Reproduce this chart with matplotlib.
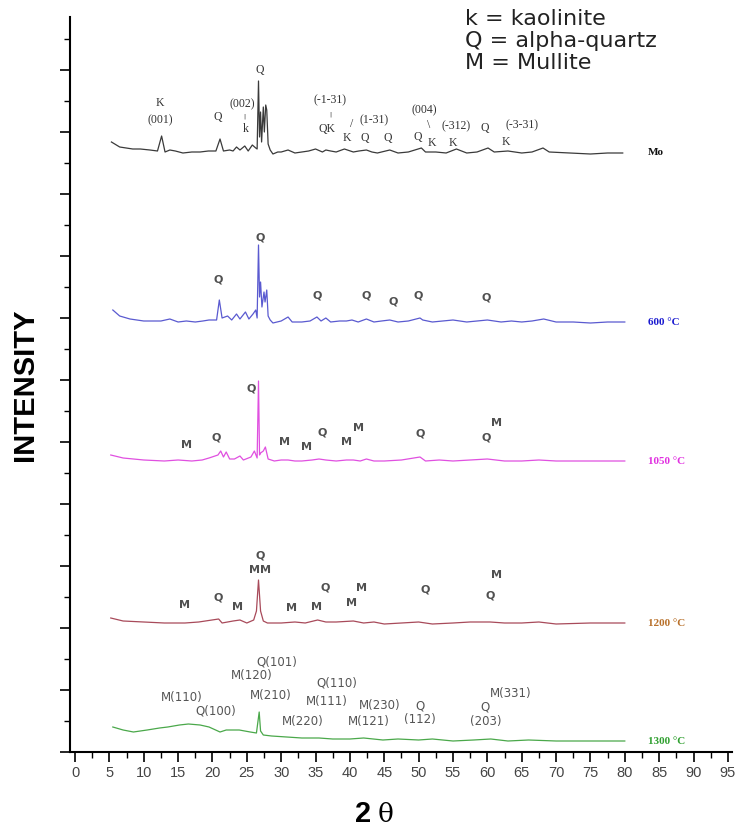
import matplotlib
matplotlib.use("Agg")
import matplotlib.pyplot as plt
import numpy as np
from matplotlib.ticker import MultipleLocator, NullFormatter

# ---- data (2-theta in degrees, intensity above each trace's own baseline, arbitrary units) ----
tt_mo = [5.3, 6.5, 8.4, 9.5, 10.9, 12.0, 12.6, 13.1, 13.8, 14.6, 15.7, 17.0, 18.2, 19.4, 20.5, 21.1,
         21.6, 22.5, 23.0, 23.5, 24.0, 24.7, 25.2, 25.8, 26.3, 26.5, 26.7, 26.85, 27.0, 27.15, 27.4,
         27.55, 27.75, 27.9, 28.1, 28.4, 28.8, 29.5, 30.0, 31.0, 32.0, 33.0, 34.0, 35.0, 36.0,
         36.5, 37.2, 38.0, 39.2, 40.5, 41.3, 42.4, 43.2, 44.0, 45.8, 47.0, 48.5, 50.4, 51.0,
         52.5, 54.0, 55.5, 57.0, 58.5, 60.1, 61.0, 63.0, 65.0, 66.5, 68.1, 69.0, 72.0, 75.0,
         77.5, 79.7]
i_mo = [10, 5, 3, 3, 2, 1, 16, 0, 2, 1, -1, 0, 0, 1, 1, 13,
        1, 2, 1, 5, 2, 6, 1, 7, 4, 3, 71, 15, 40, 10, 45,
        20, 47, 42, 8, 2, -2, 0, 0, 2, -1, 0, 1, 3, 0,
        2, 1, 0, 3, 0, 1, 2, 0, -1, 2, -1, 0, 4, 0,
        0, -1, 3, -1, 0, 4, 0, 1, -1, 0, 4, 0, -1, -2,
        -1, -1]

tt_600 = [5.5, 6.5, 8.0, 10.0, 12.5, 13.8, 15.0, 16.2, 17.5, 18.6, 19.5, 20.6, 21.0, 21.4, 22.2,
          22.8, 23.5, 24.0, 24.8, 25.3, 25.9, 26.3, 26.5, 26.7, 26.85, 27.0, 27.2, 27.5, 27.65,
          27.9, 28.1, 28.4, 28.8, 30.0, 31.0, 31.6, 33.0, 34.2, 35.2, 35.8, 36.5, 37.2, 38.5,
          39.5, 40.3, 41.2, 42.4, 43.5, 44.6, 45.8, 47.0, 48.5, 50.2, 50.6, 52.0, 53.5, 55.0,
          57.0, 58.5, 60.0, 62.0, 63.5, 65.0, 66.5, 68.2, 70.0, 72.5, 75.0, 77.5, 80.0]
i_600 = [12, 6, 3, 1, 1, 3, 0, 1, 0, 1, 2, 2, 22, 4, 6,
         2, 8, 3, 10, 3, 8, 12, 4, 77, 25, 40, 15, 30, 20,
         32, 6, 2, -1, 1, 5, 0, 0, 1, 5, 1, 4, 0, 1,
         1, 2, 0, 3, 0, 1, 2, 0, 1, 4, 2, 0, 1, 2,
         0, 1, 2, 0, 1, 0, 1, 3, 0, 0, -1, 0, 0]

tt_1050 = [5.2, 7.0, 10.0, 13.0, 15.0, 17.0, 18.5, 19.5, 20.8, 21.2, 21.6, 22.0, 22.5, 23.2, 24.0,
           24.5, 25.6, 26.1, 26.5, 26.7, 26.85, 27.0, 27.4, 27.7, 28.1, 29.0, 30.0, 31.0, 32.0,
           33.0, 34.5, 35.5, 36.5, 38.0, 39.5, 40.5, 41.5, 42.4, 43.5, 45.0, 47.5, 50.2, 51.0,
           53.0, 55.0, 57.5, 60.0, 62.5, 65.0, 67.5, 70.0, 75.0, 80.0]
i_1050 = [6, 3, 1, 0, 1, 0, 1, 3, 6, 10, 4, 9, 2, 2, 5,
          1, 4, 10, 3, 80, 6, 8, 10, 14, 2, 0, 1, 1, 0,
          0, 1, 2, 1, 0, 1, 1, 0, 2, 0, 0, 1, 4, 0,
          1, 0, 1, 2, 0, 0, 1, 0, 0, 0]

tt_1200 = [5.2, 7.0, 10.0, 13.0, 16.0, 18.0, 20.9, 21.4, 23.0, 24.0, 25.0, 26.0, 26.4, 26.7, 27.0,
           27.4, 28.0, 30.0, 32.0, 33.5, 35.3, 36.5, 38.0, 40.5, 42.0, 43.5, 45.0, 47.5, 50.0,
           52.0, 55.0, 57.5, 60.4, 62.5, 65.0, 67.5, 70.0, 75.0, 80.0]
i_1200 = [5, 2, 1, 0, 0, 1, 4, 0, 2, 3, 0, 3, 12, 43, 12,
          2, 0, 0, 1, 0, 3, 1, 1, 2, 0, 1, -1, 0, 1,
          -1, 0, 1, 1, 0, 0, 1, -1, 0, 0]

tt_1300 = [5.5, 7.0, 8.5, 10.5, 12.3, 13.5, 15.2, 16.5, 18.2, 19.5, 21.1, 22.0, 23.9, 25.5, 26.4,
           26.8, 27.0, 27.4, 28.6, 30.8, 33.0, 35.5, 37.5, 40.0, 42.0, 44.8, 47.0, 50.0, 52.0,
           55.0, 58.0, 60.5, 63.0, 66.0, 70.0, 75.0, 80.0]
i_1300 = [14, 11, 9, 11, 13, 14, 16, 17, 16, 14, 9, 11, 11, 9, 8,
          29, 10, 6, 5, 4, 3, 3, 2, 2, 3, 1, 2, 1, 2,
          0, 1, 2, 0, 1, 0, 0, 0]

traces = [tt_mo, tt_600, tt_1050, tt_1200, tt_1300]
intens = [i_mo, i_600, i_1050, i_1200, i_1300]
offsets = [600, 430, 291, 129, 11]
line_colors = ["#3a3a3a", "#5a5ad0", "#e050e0", "#a84a5a", "#4aa84a"]
names = ["Mo", "600 \u00b0C", "1050 \u00b0C", "1200 \u00b0C", "1300 \u00b0C"]
name_colors = ["#111111", "#1a1ad0", "#e030e0", "#b8702a", "#30a030"]

# peak labels: (text, 2theta, height)
lab_mo = [("K", 12.4, 649), ("(001)", 12.4, 632), ("Q", 20.7, 635), ("(002)", 24.4, 648),
          ("k", 24.9, 623), ("Q", 26.9, 682), ("(-1-31)", 37.1, 652),
          ("QK", 36.7, 623), ("/", 40.2, 628), ("(1-31)", 43.5, 632),
          ("K", 39.6, 614), ("Q", 42.2, 614), ("Q", 45.5, 614), ("(004)", 50.8, 642),
          ("\\", 51.4, 627), ("(-312)", 55.4, 626), ("Q", 49.9, 615), ("K", 51.9, 609),
          ("K", 55.0, 609), ("Q", 59.6, 624), ("(-3-31)", 65.0, 627), ("K", 62.7, 610)]
# small leader bars between an index and its letter
bars_mo = [("|", 24.7, 636), ("|", 37.1, 638)]
lab_600 = [("Q", 20.8, 472), ("Q", 26.9, 515), ("Q", 35.2, 457), ("Q", 42.3, 457),
           ("Q", 46.3, 450), ("Q", 49.9, 456), ("Q", 59.8, 454)]
lab_1050 = [("M", 16.2, 307), ("Q", 20.6, 315), ("Q", 25.7, 364), ("M", 30.5, 310),
            ("M", 33.7, 305), ("Q", 35.9, 320), ("M", 39.5, 310), ("M", 41.2, 324),
            ("Q", 50.2, 319), ("Q", 59.9, 315), ("M", 61.3, 329)]
lab_1200 = [("M", 16.0, 147), ("Q", 20.8, 155), ("M", 23.6, 145), ("Q", 26.9, 197),
            ("MM", 26.9, 182), ("M", 31.5, 144), ("M", 35.2, 145), ("Q", 36.4, 164),
            ("M", 40.3, 149), ("M", 41.7, 164), ("Q", 50.9, 162), ("Q", 60.4, 157),
            ("M", 61.3, 177)]
lab_1300 = [("Q(101)", 29.3, 90), ("M(120)", 25.7, 76), ("Q(110)", 38.1, 69),
            ("M(110)", 15.6, 54), ("M(210)", 28.5, 56), ("M(111)", 36.7, 50),
            ("M(230)", 44.4, 46), ("Q", 50.2, 46), ("Q(100)", 20.5, 41),
            ("M(220)", 33.2, 31), ("M(121)", 42.8, 31), ("(112)", 50.2, 32),
            ("M(331)", 63.4, 58), ("Q", 59.6, 45), ("(203)", 59.8, 30)]

key_lines = ["k = kaolinite", "Q = alpha-quartz", "M = Mullite"]

fig = plt.figure(figsize=(7.38, 8.32), dpi=100)
ax = fig.add_axes([70 / 738, 80 / 832, 662 / 738, 735 / 832])

for x, y, off, c in zip(traces, intens, offsets, line_colors):
    ax.plot(x, np.array(y) + off, color=c, lw=0.9)

# trace names at the right
for name, off, c in zip(names, offsets, name_colors):
    ax.text(83.4, off, name, color=c, fontsize=8, fontweight="bold",
            family="Liberation Serif", ha="left", va="center")

for t, x, y in lab_mo:
    ax.text(x, y, t, fontsize=8.5, family="Liberation Serif", color="#333333",
            ha="center", va="center")
for t, x, y in bars_mo:
    ax.text(x, y, t, fontsize=4.5, family="DejaVu Sans", color="#333333",
            ha="center", va="center")
for group in (lab_600, lab_1050, lab_1200):
    for t, x, y in group:
        ax.text(x, y, t, fontsize=8, fontweight="bold", family="DejaVu Sans",
                color="#505050", ha="center", va="center")
for t, x, y in lab_1300:
    ax.text(x, y, t, fontsize=8.5, family="DejaVu Sans", color="#555555",
            ha="center", va="center")

for k, line in enumerate(key_lines):
    ax.text(56.7, 733 - 22 * k, line, fontsize=16, family="DejaVu Sans",
            color="#222222", ha="left", va="center")

ax.set_xlim(-0.73, 95.6)
ax.set_ylim(0, 735)
ax.spines["top"].set_visible(False)
ax.spines["right"].set_visible(False)
ax.spines["left"].set_linewidth(1.5)
ax.spines["bottom"].set_linewidth(1.5)

ax.xaxis.set_major_locator(MultipleLocator(5))
ax.xaxis.set_minor_locator(MultipleLocator(2.5))
ax.yaxis.set_major_locator(MultipleLocator(62))
ax.yaxis.set_minor_locator(MultipleLocator(31))
ax.yaxis.set_major_formatter(NullFormatter())
ax.tick_params(axis="both", which="major", direction="out", length=7, width=1.2)
ax.tick_params(axis="both", which="minor", direction="out", length=4, width=1.0)
ax.tick_params(axis="x", labelsize=10.5, labelcolor="#444444", pad=3)
for lbl in ax.get_xticklabels():
    lbl.set_family("Liberation Sans")

ax.set_ylabel("INTENSITY", fontsize=21, fontweight="bold", family="Liberation Sans",
              labelpad=12)
ax.text(0.443, -0.085, "2", transform=ax.transAxes, fontsize=21, fontweight="bold",
        family="Liberation Sans", ha="center", va="center")
ax.text(0.477, -0.085, "\u03b8", transform=ax.transAxes, fontsize=19,
        family="DejaVu Serif", ha="center", va="center")

fig.savefig("out.png", dpi=100)
